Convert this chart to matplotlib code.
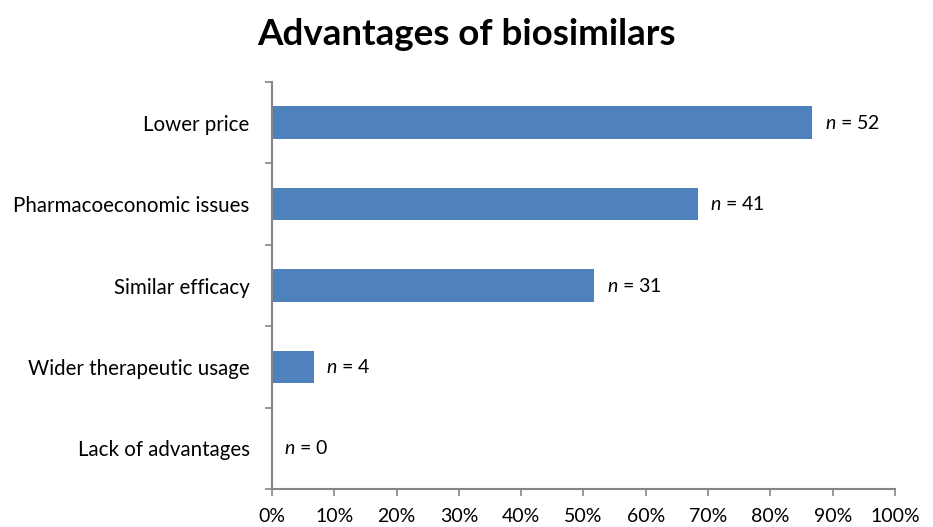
import matplotlib
matplotlib.use('Agg')
import matplotlib.pyplot as plt
import numpy as np

plt.rcParams['font.family'] = 'Lato'
plt.rcParams['mathtext.fontset'] = 'custom'
plt.rcParams['mathtext.rm'] = 'Lato'
plt.rcParams['mathtext.it'] = 'Lato:italic'

# 数据
categories = ['Lower price', 'Pharmacoeconomic issues', 'Similar efficacy',
              'Wider therapeutic usage', 'Lack of advantages']
counts = [52, 41, 31, 4, 0]
percents = [86.7, 68.3, 51.7, 6.7, 0.0]
xticks = [0, 10, 20, 30, 40, 50, 60, 70, 80, 90, 100]

fig = plt.figure(figsize=(9.33, 5.27), dpi=100)
ax = fig.add_axes([0.2915, 0.0721, 0.6678, 0.7723])

y = np.arange(len(categories))
ax.barh(y, percents, height=0.4, color='#4F81BD')
for yi, p, n in zip(y, percents, counts):
    ax.text(p + 2.0, yi, r'$n$ = %d' % n, va='center', ha='left', fontsize=14)

ax.set_xlim(0, 100)
ax.set_ylim(len(categories) - 0.5, -0.5)
ax.set_xticks(xticks)
ax.set_xticklabels(['%d%%' % t for t in xticks], fontsize=14)
ax.set_yticks(y)
ax.set_yticklabels(categories, fontsize=14.8)
ax.set_yticks(np.arange(len(categories) + 1) - 0.5, minor=True)
ax.tick_params(axis='y', which='major', length=0, pad=16)
ax.tick_params(axis='y', which='minor', length=5, color='#868686', width=1.2)
ax.tick_params(axis='x', length=5, color='#868686', width=1.2, pad=9)

for s in ['top', 'right']:
    ax.spines[s].set_visible(False)
for s in ['left', 'bottom']:
    ax.spines[s].set_color('#868686')
    ax.spines[s].set_linewidth(1.5)

fig.text(0.5, 0.935, 'Advantages of biosimilars', ha='center', va='center',
         fontsize=26.5, fontweight='bold')

fig.savefig('out.png', dpi=100, facecolor='white')
